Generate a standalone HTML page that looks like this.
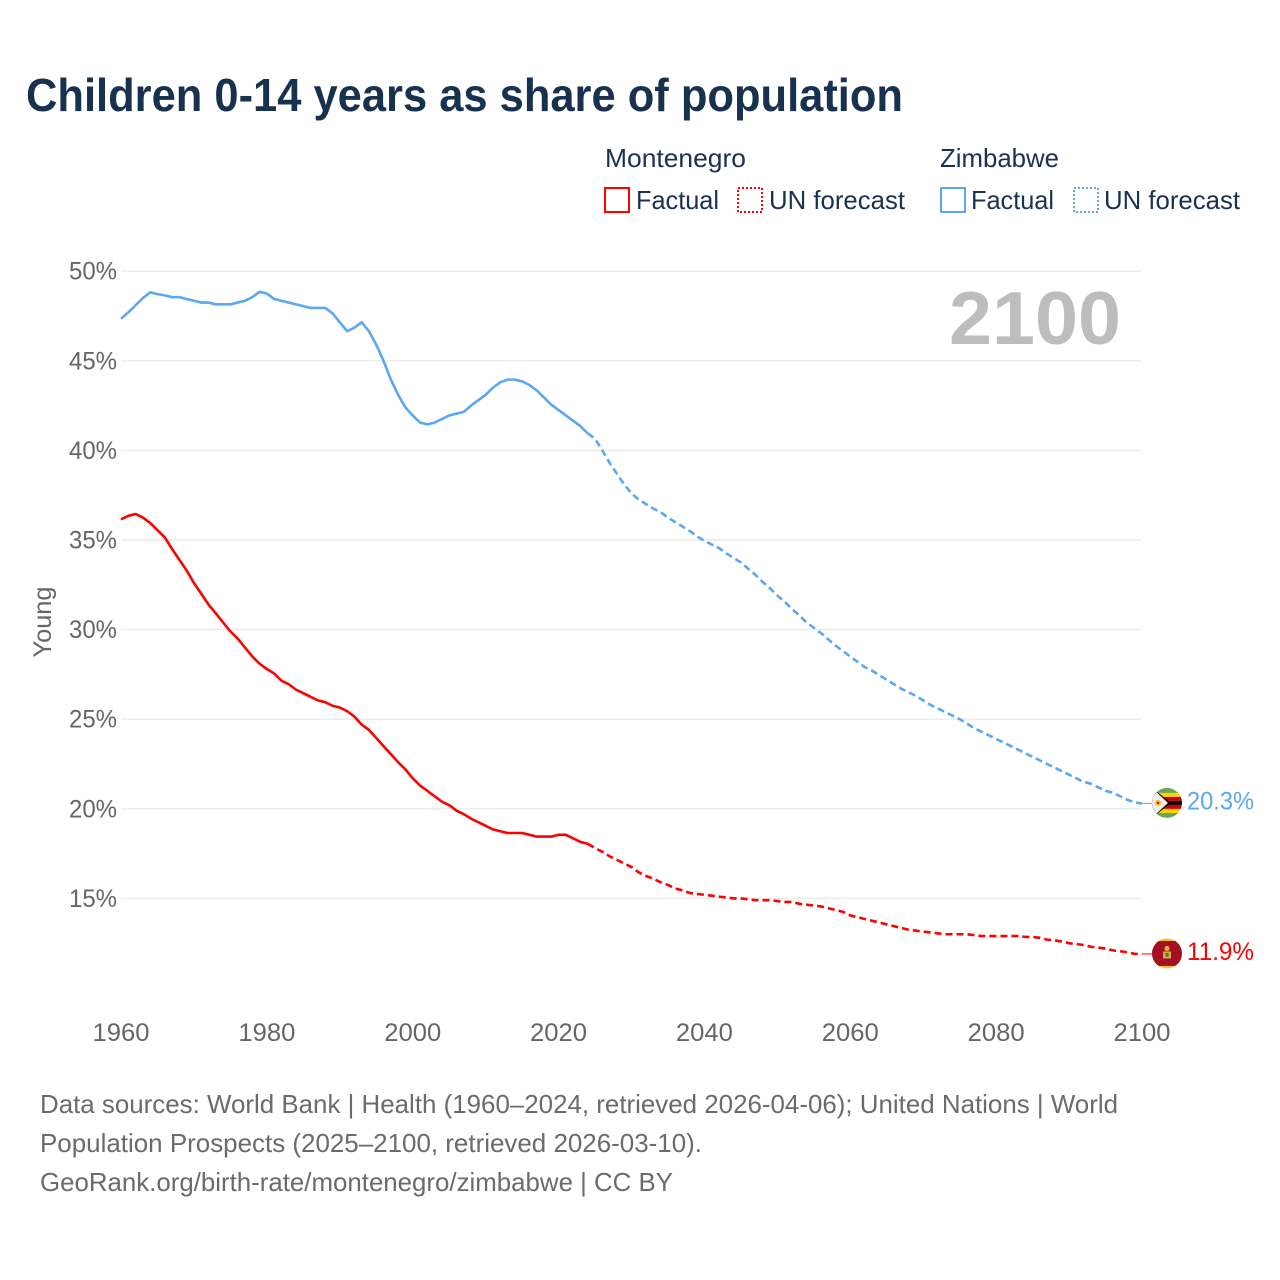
<!DOCTYPE html>
<html lang="en">
<head>
<meta charset="utf-8">
<title>Children 0-14 years as share of population</title>
<style>
html,body{margin:0;padding:0;background:#fff;}
svg{display:block;font-family:"Liberation Sans",sans-serif;}
</style>
</head>
<body>
<svg id="chart" xmlns="http://www.w3.org/2000/svg" width="1280" height="1280" viewBox="0 0 1280 1280">
  <rect x="0" y="0" width="1280" height="1280" fill="#ffffff"/>
  <text x="26" y="111" font-size="46" font-weight="700" fill="#18314f" textLength="877" lengthAdjust="spacingAndGlyphs">Children 0-14 years as share of population</text>

  <g font-size="26" fill="#1a3152">
    <text x="605" y="167" textLength="141" lengthAdjust="spacingAndGlyphs">Montenegro</text>
    <rect x="605" y="188" width="24" height="24" fill="none" stroke="#ff0000" stroke-width="2"/>
    <text x="636" y="209" textLength="83" lengthAdjust="spacingAndGlyphs">Factual</text>
    <rect x="738" y="188" width="24" height="24" fill="none" stroke="#ff0000" stroke-width="2" stroke-dasharray="2 2"/>
    <text x="769" y="209" textLength="136" lengthAdjust="spacingAndGlyphs">UN forecast</text>

    <text x="940" y="167" textLength="119" lengthAdjust="spacingAndGlyphs">Zimbabwe</text>
    <rect x="941" y="188" width="24" height="24" fill="none" stroke="#5ba7f0" stroke-width="2"/>
    <text x="971" y="209" textLength="83" lengthAdjust="spacingAndGlyphs">Factual</text>
    <rect x="1074" y="188" width="24" height="24" fill="none" stroke="#5ba7f0" stroke-width="2" stroke-dasharray="2 2"/>
    <text x="1104" y="209" textLength="136" lengthAdjust="spacingAndGlyphs">UN forecast</text>
  </g>

  <g id="grid"></g>
  <g id="yticks" font-size="25" fill="#666666" text-anchor="end"></g>
  <g id="xticks" font-size="25" fill="#666666" text-anchor="middle"></g>
  <text transform="translate(51 622) rotate(-90)" font-size="25" fill="#666666" text-anchor="middle" textLength="71" lengthAdjust="spacingAndGlyphs">Young</text>
  <text x="949" y="344" font-size="75" font-weight="700" fill="#bdbdbd" textLength="172" lengthAdjust="spacingAndGlyphs">2100</text>

  <g id="series"></g>

  <defs>
    <clipPath id="zw-clip"><circle cx="0" cy="0" r="15"/></clipPath>
    <clipPath id="me-clip"><circle cx="0" cy="0" r="15"/></clipPath>
  </defs>
  <g id="flag-zimbabwe">
    <g clip-path="url(#zw-clip)">
      <rect x="-15" y="-15" width="30" height="30" fill="#ffffff"/>
      <rect x="-15" y="-15" width="30" height="5" fill="#6aa84f"/>
      <rect x="-15" y="-10" width="30" height="4" fill="#ffd200"/>
      <rect x="-15" y="-6" width="30" height="4" fill="#d40000"/>
      <rect x="-15" y="-2" width="30" height="4" fill="#000000"/>
      <rect x="-15" y="2" width="30" height="4" fill="#d40000"/>
      <rect x="-15" y="6" width="30" height="4" fill="#ffd200"/>
      <rect x="-15" y="10" width="30" height="5" fill="#6aa84f"/>
      <polygon points="-15,-15 -15,15 4,0" fill="#000000"/>
      <polygon points="-15,-15 -15,15 1,0" fill="#eeeeee"/>
      <circle cx="-9" cy="0" r="3" fill="#f7c21a"/>
      <circle cx="-9" cy="0" r="1.2" fill="#d40000"/>
    </g>
  </g>
  <g id="flag-montenegro">
    <g clip-path="url(#me-clip)">
      <rect x="-15" y="-15" width="30" height="30" fill="#f0c330"/>
      <rect x="-15" y="-12.5" width="30" height="25" fill="#a50f23"/>
      <rect x="-4" y="-2" width="8" height="7" fill="#d9ab35"/>
      <circle cx="0" cy="-5" r="2.6" fill="#e2b53a"/>
      <rect x="-1.6" y="-0.5" width="3.2" height="3.6" fill="#3f7a66"/>
    </g>
  </g>
  <text id="label-zimbabwe" x="1187" font-size="25" fill="#5ba7f0" textLength="67" lengthAdjust="spacingAndGlyphs"></text>
  <text id="label-montenegro" x="1187" font-size="25" fill="#ff0000" textLength="67" lengthAdjust="spacingAndGlyphs"></text>

  <g font-size="26" fill="#6b6b6b">
    <text x="40" y="1113" textLength="1078" lengthAdjust="spacingAndGlyphs">Data sources: World Bank | Health (1960–2024, retrieved 2026-04-06); United Nations | World</text>
    <text x="40" y="1152" textLength="662" lengthAdjust="spacingAndGlyphs">Population Prospects (2025–2100, retrieved 2026-03-10).</text>
    <text x="40" y="1191" textLength="633" lengthAdjust="spacingAndGlyphs">GeoRank.org/birth-rate/montenegro/zimbabwe | CC BY</text>
  </g>
</svg>

<script>
const startYear = 1960;
const lastFactualYear = 2025;
const xTickYears = [1960, 1980, 2000, 2020, 2040, 2060, 2080, 2100];
const yTickValues = [15, 20, 25, 30, 35, 40, 45, 50];

const zimbabweValues = [
  47.35,47.7,48.1,48.5,48.82,48.72,48.65,48.55,48.55,48.45,
  48.35,48.25,48.25,48.15,48.15,48.15,48.25,48.35,48.55,48.85,
  48.75,48.45,48.35,48.25,48.15,48.05,47.95,47.95,47.95,47.65,
  47.15,46.65,46.85,47.15,46.65,45.9,45.0,43.95,43.1,42.4,
  41.95,41.55,41.45,41.55,41.75,41.95,42.05,42.15,42.5,42.8,
  43.1,43.5,43.8,43.95,43.95,43.85,43.65,43.35,42.95,42.55,
  42.25,41.95,41.65,41.35,40.95,40.65,40.0,39.3,38.7,38.1,
  37.6,37.25,37.0,36.75,36.55,36.25,36.0,35.75,35.5,35.2,
  34.95,34.75,34.55,34.25,34.0,33.75,33.4,33.05,32.65,32.3,
  31.9,31.55,31.15,30.8,30.4,30.1,29.8,29.45,29.1,28.8,
  28.5,28.2,27.9,27.7,27.45,27.2,26.95,26.7,26.5,26.3,
  26.05,25.8,25.6,25.4,25.2,25.0,24.75,24.5,24.3,24.1,
  23.9,23.7,23.5,23.3,23.1,22.9,22.7,22.5,22.3,22.1,
  21.9,21.7,21.5,21.4,21.2,21.0,20.9,20.7,20.5,20.35,20.3
];

const montenegroValues = [
  36.15,36.35,36.45,36.25,35.95,35.55,35.15,34.5,33.9,33.3,
  32.6,32.0,31.4,30.9,30.4,29.9,29.5,29.0,28.5,28.1,
  27.8,27.55,27.15,26.95,26.65,26.45,26.25,26.05,25.95,25.75,
  25.65,25.45,25.15,24.7,24.4,23.95,23.5,23.05,22.6,22.2,
  21.7,21.3,21.0,20.7,20.4,20.2,19.9,19.7,19.45,19.25,
  19.05,18.85,18.75,18.65,18.65,18.65,18.55,18.45,18.45,18.45,
  18.55,18.55,18.35,18.15,18.05,17.8,17.6,17.35,17.15,16.95,
  16.75,16.45,16.25,16.1,15.9,15.75,15.55,15.45,15.3,15.25,
  15.2,15.15,15.1,15.05,15.0,15.0,14.95,14.9,14.9,14.9,
  14.85,14.8,14.8,14.7,14.65,14.6,14.55,14.45,14.35,14.25,
  14.05,13.95,13.85,13.75,13.65,13.55,13.45,13.35,13.25,13.2,
  13.15,13.1,13.05,13.0,13.0,13.0,13.0,12.95,12.9,12.9,
  12.9,12.9,12.9,12.9,12.85,12.85,12.8,12.7,12.65,12.6,
  12.5,12.45,12.4,12.3,12.25,12.2,12.1,12.05,12.0,11.9,11.9
];

const svgNS = 'http://www.w3.org/2000/svg';
const xOf = function (year) { return 121 + (year - 1960) * (1142 - 121) / 140; };
const yOf = function (value) { return 808.8 - (value - 20) * 17.92; };

function pathFor(values, fromYear, toYear) {
  const parts = [];
  for (let year = fromYear; year <= toYear; year++) {
    const value = values[year - startYear];
    parts.push((parts.length ? 'L' : 'M') + xOf(year).toFixed(2) + ' ' + yOf(value).toFixed(2));
  }
  return parts.join(' ');
}

const gridGroup = document.getElementById('grid');
const yTickGroup = document.getElementById('yticks');
yTickValues.forEach(function (tick) {
  const line = document.createElementNS(svgNS, 'line');
  
  
  line.setAttribute('x1', 121);
  line.setAttribute('x2', 1141);
  line.setAttribute('y1', yOf(tick));
  line.setAttribute('y2', yOf(tick));
  line.setAttribute('stroke', '#ececec');
  line.setAttribute('stroke-width', '1.4');
  gridGroup.appendChild(line);

  const label = document.createElementNS(svgNS, 'text');
  
  
  label.setAttribute('x', 117);
  label.setAttribute('y', yOf(tick) + 8.5);
  label.setAttribute('textLength', 48);
  label.setAttribute('lengthAdjust', 'spacingAndGlyphs');
  label.textContent = tick + '%';
  yTickGroup.appendChild(label);
});

const xTickGroup = document.getElementById('xticks');
xTickYears.forEach(function (year) {
  const label = document.createElementNS(svgNS, 'text');
  
  
  label.setAttribute('x', xOf(year));
  label.setAttribute('y', 1041);
  label.setAttribute('textLength', 57);
  label.setAttribute('lengthAdjust', 'spacingAndGlyphs');
  label.textContent = year;
  xTickGroup.appendChild(label);
});

const seriesGroup = document.getElementById('series');

function drawSeries(values, color, slug) {
  const endYear = startYear + values.length - 1;

  const factual = document.createElementNS(svgNS, 'path');
  
  
  factual.setAttribute('d', pathFor(values, startYear, lastFactualYear - 1));
  factual.setAttribute('fill', 'none');
  factual.setAttribute('stroke', color);
  factual.setAttribute('stroke-width', '2.6');
  factual.setAttribute('stroke-linejoin', 'round');
  seriesGroup.appendChild(factual);

  const forecast = document.createElementNS(svgNS, 'path');
  
  
  forecast.setAttribute('d', pathFor(values, lastFactualYear - 1, endYear));
  forecast.setAttribute('fill', 'none');
  forecast.setAttribute('stroke', color);
  forecast.setAttribute('stroke-width', '2.6');
  forecast.setAttribute('stroke-dasharray', '7 4');
  seriesGroup.appendChild(forecast);

  const leader = document.createElementNS(svgNS, 'line');
  
  
  leader.setAttribute('x1', xOf(endYear));
  leader.setAttribute('x2', xOf(endYear) + 11);
  leader.setAttribute('y1', yOf(values[values.length - 1]));
  leader.setAttribute('y2', yOf(values[values.length - 1]));
  leader.setAttribute('stroke', color);
  leader.setAttribute('stroke-width', '1');
  seriesGroup.appendChild(leader);
}

drawSeries(montenegroValues, '#ff0000', 'montenegro');
drawSeries(zimbabweValues, '#5ba7f0', 'zimbabwe');

function placeEnd(values, flagId, labelId) {
  const endValue = values[values.length - 1];
  const endX = xOf(startYear + values.length - 1);
  const endY = yOf(endValue);
  document.getElementById(flagId).setAttribute('transform', 'translate(' + (endX + 25) + ' ' + (endY - 0.5) + ')');
  const label = document.getElementById(labelId);
  label.setAttribute('y', endY + 6);
  label.textContent = endValue.toFixed(1) + '%';
}

placeEnd(zimbabweValues, 'flag-zimbabwe', 'label-zimbabwe');
placeEnd(montenegroValues, 'flag-montenegro', 'label-montenegro');
</script>
</body>
</html>
